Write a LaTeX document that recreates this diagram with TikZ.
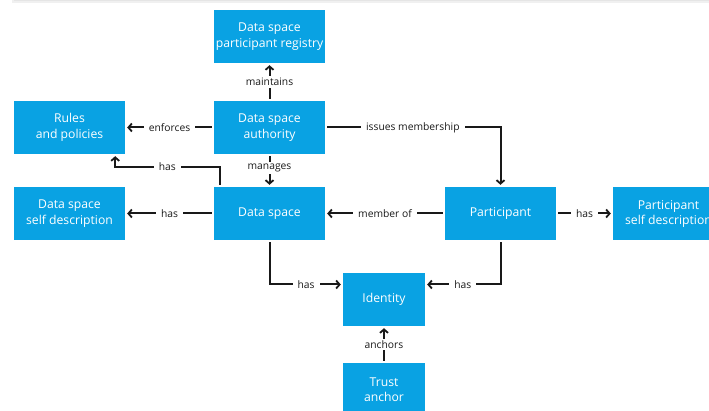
\documentclass[tikz,border=0pt]{standalone}
\usepackage{fontspec}
\setmainfont{Open Sans}
\usetikzlibrary{arrows.meta}
\definecolor{boxblue}{RGB}{9,162,227}
\definecolor{linegray}{RGB}{25,25,25}
\tikzset{
  box/.style={fill=boxblue, text=white, align=center, inner sep=0pt,
    minimum width=111pt, minimum height=53pt, font=\fontsize{12.2}{15.5}\selectfont},
  smallbox/.style={box, minimum width=82pt},
  lbl/.style={fill=white, text=linegray, inner xsep=5pt, inner ysep=2pt,
    font=\fontsize{10.3}{12}\selectfont},
  arr/.style={draw=linegray, line width=2pt,
    -{Straight Barb[length=3.5pt,width=8pt,line width=1.8pt]},
    shorten >=2pt, shorten <=2pt}
}
\begin{document}
\begin{tikzpicture}[x=1pt,y=-1pt]
\clip (0,0) rectangle (709,411);
\fill[white] (0,0) rectangle (709,411);
\fill[black!6] (12,0) rectangle (709,3);
\fill[black!10] (14,0) rectangle (709,1.5);

\node[box] (reg) at (269.5,36.5) {Data space\\participant registry};
\node[box] (auth) at (269.5,127.5) {Data space\\authority};
\node[box] (rules) at (69.5,127.5) {Rules\\and policies};
\node[box] (ds) at (269.5,213.5) {Data space};
\node[box] (dssd) at (69.5,213.5) {Data space\\self description};
\node[box] (part) at (500.5,213.5) {Participant};
\node[box] (psd) at (668.5,214) {Participant\\self description};
\node[smallbox] (id) at (384,299.5) {Identity};
\node[smallbox] (trust) at (384,389.5) {Trust\\anchor};

\draw[arr] (auth.north) -- node[lbl] {maintains} (reg.south);
\draw[arr] (auth.west) -- node[lbl] {enforces} (rules.east);
\draw[arr] (auth.south) -- node[lbl, pos=0.42] {manages} (ds.north);
\draw[arr] (ds.west) -- node[lbl] {has} (dssd.east);
\draw[arr] ([xshift=-50pt]ds.north) -- ++(0,-20) -| node[lbl, pos=0.25] {has} ([xshift=-10pt]rules.south east);
\draw[arr] (auth.east) -- node[lbl] {issues membership} (auth.east -| part.north) -- (part.north);
\draw[arr] (part.west) -- node[lbl] {member of} (ds.east);
\draw[arr] (part.east) -- node[lbl] {has} (part.east -| psd.west);
\draw[arr] (ds.south) |- node[lbl, pos=0.75] {has} ([yshift=15pt]id.west);
\draw[arr] (part.south) |- node[lbl, pos=0.75] {has} ([yshift=15pt]id.east);
\draw[arr] (trust.north) -- node[lbl] {anchors} (id.south);
\end{tikzpicture}
\end{document}
